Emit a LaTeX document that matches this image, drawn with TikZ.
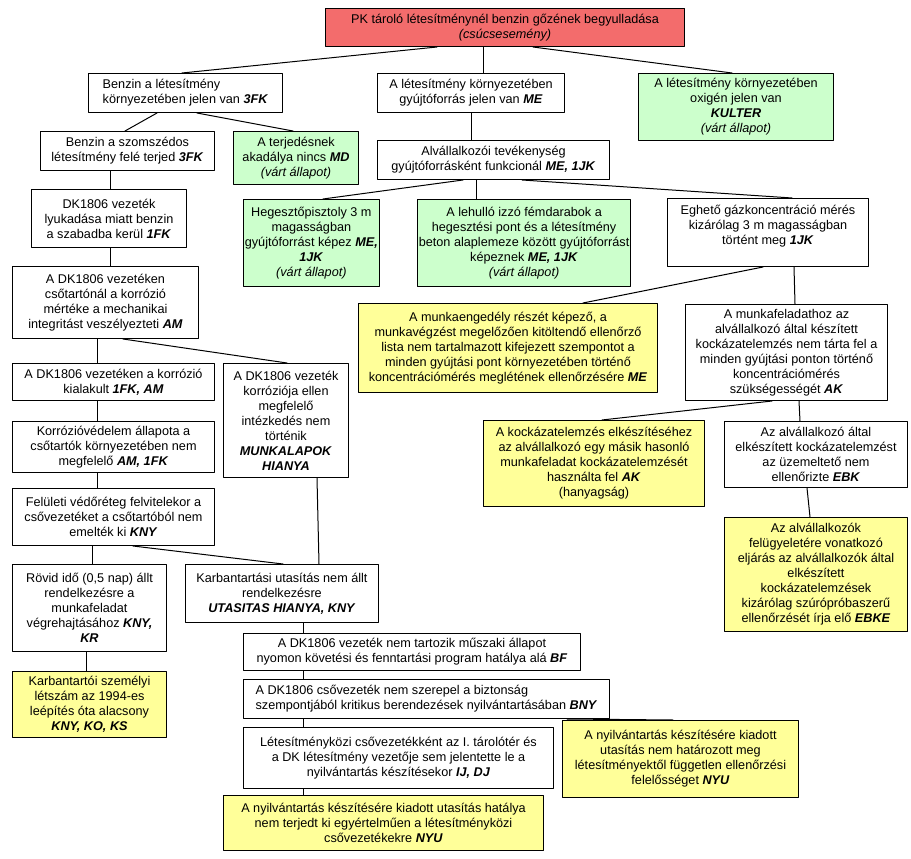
\documentclass[tikz,border=0pt]{standalone}
\usepackage{fontspec}
\setmainfont{Liberation Sans}
\newcommand{\kod}[1]{\textbf{\textit{#1}}}
\definecolor{pirosszin}{RGB}{243,108,108}
\definecolor{zoldszin}{RGB}{204,255,204}
\definecolor{sargaszin}{RGB}{255,255,153}
\tikzset{meret/.style 2 args={minimum width=#1*0.75pt,minimum height=#2*0.75pt}}
\begin{document}
\begin{tikzpicture}[x=0.75pt,y=-0.75pt,font=\fontsize{9.5}{11.25}\selectfont,line join=round,line cap=round,
	doboz/.style={draw,line width=0.75pt,anchor=north west,align=center,inner xsep=1pt,inner ysep=1pt},
	piros/.style={doboz,fill=pirosszin},
	zold/.style={doboz,fill=zoldszin},
	sarga/.style={doboz,fill=sargaszin}]
	\useasboundingbox (0,0) rectangle (911,859);
	% első sorok
	\path
	(325,8) node[piros,meret={359}{38}] (csucs) {PK tároló létesítménynél benzin gőzének begyulladása\\\textit{(csúcsesemény)}}
	(88,73) node[doboz,align=left,meret={194}{39}] (benzin) {Benzin a létesítmény\\környezetében jelen van \kod{3FK}}
	(377,73) node[doboz,meret={187}{39}] (gyujto) {A létesítmény környezetében\\gyújtóforrás jelen van \kod{ME}}
	(638,73) node[zold,meret={195}{67}] (oxigen) {A létesítmény környezetében\\oxigén jelen van\\\kod{KULTER}\\\textit{(várt állapot)}}
	(40,131) node[doboz,meret={174}{39}] (szomszed) {Benzin a szomszédos\\létesítmény felé terjed \kod{3FK}}
	(233,131) node[zold,meret={125}{53}] (terjed) {A terjedésnek\\akadálya nincs \kod{MD}\\\textit{(várt állapot)}}
	(377,140) node[doboz,meret={232}{39}] (alvall) {Alvállalkozói tevékenység\\gyújtóforrásként funkcionál \kod{ME, 1JK}}
	(31,189) node[doboz,meret={155}{58}] (lyuk) {DK1806 vezeték\\lyukadása miatt benzin\\a szabadba kerül \kod{1FK}}
	(243,199) node[zold,meret={115}{87}] (hegeszt) {Hegesztőpisztoly 3 m\\magasságban\\gyújtóforrást képez \kod{ME,}\\\kod{1JK}\\\textit{(várt állapot)}}
	(417,199) node[zold,meret={156}{87}] (lehull) {A lehulló izzó fémdarabok a\\hegesztési pont és a létesítmény\\beton alaplemeze között gyújtóforrást\\képeznek \kod{ME, 1JK}\\\textit{(várt állapot)}}
	(667,198) node[doboz,meret={201}{68}] (eghet) {Eghető gázkoncentráció mérés\\kizárólag 3 m magasságban\\történt meg \kod{1JK}\\\mbox{}};
	% bal oldali ág
	\path
	(12,266) node[doboz,meret={186}{72}] (csotarto) {A DK1806 vezetéken\\csőtartónál a korrózió\\mértéke a mechanikai\\integritást veszélyezteti \kod{AM}}
	(12,363) node[doboz,meret={202}{37}] (korrozio) {A DK1806 vezetéken a korrózió\\kialakult \kod{1FK, AM}}
	(223,363) node[doboz,meret={125}{114}] (munkalap) {A DK1806 vezeték\\korróziója ellen\\megfelelő\\intézkedés nem\\történik\\\kod{MUNKALAPOK}\\\kod{HIANYA}}
	(12,421) node[doboz,meret={202}{51}] (vedelem) {Korrózióvédelem állapota a\\csőtartók környezetében nem\\megfelelő \kod{AM, 1FK}}
	(12,488) node[doboz,meret={202}{57}] (feluleti) {Felületi védőréteg felvitelekor a\\csővezetéket a csőtartóból nem\\emelték ki \kod{KNY}}
	(12,564) node[doboz,meret={154}{87}] (rovid) {Rövid idő (0,5 nap) állt\\rendelkezésre a\\munkafeladat\\végrehajtásához \kod{KNY,}\\\kod{KR}}
	(185,564) node[doboz,meret={193}{58}] (utasitas) {Karbantartási utasítás nem állt\\rendelkezésre\\\kod{UTASITAS HIANYA, KNY}}
	(12,671) node[sarga,meret={154}{66}] (letszam) {Karbantartói személyi\\létszám az 1994-es\\leépítés óta alacsony\\\kod{KNY, KO, KS}}
	(243,633) node[doboz,meret={337}{37}] (muszaki) {A DK1806 vezeték nem tartozik műszaki állapot\\nyomon követési és fenntartási program hatálya alá \kod{BF}}
	(243,679) node[doboz,align=left,meret={366}{39}] (bny) {A DK1806 csővezeték nem szerepel a biztonság\\szempontjából kritikus berendezések nyilvántartásában \kod{BNY}}
	(243,727) node[doboz,meret={310}{61}] (letkozi) {Létesítményközi csővezetékként az I. tárolótér és\\a DK létesítmény vezetője sem jelentette le a\\nyilvántartás készítésekor \kod{IJ, DJ}}
	(562,720) node[sarga,meret={236}{77}] (nyujobb) {A nyilvántartás készítésére kiadott\\utasítás nem határozott meg\\létesítményektől független ellenőrzési\\felelősséget \kod{NYU}}
	(223,795) node[sarga,meret={320}{55}] (nyubal) {A nyilvántartás készítésére kiadott utasítás hatálya\\nem terjedt ki egyértelműen a létesítményközi\\csővezetékekre \kod{NYU}};
	% jobb oldali ág
	\path
	(358,303) node[sarga,meret={299}{89}] (munkaeng) {A munkaengedély részét képező, a\\munkavégzést megelőzően kitöltendő ellenőrző\\lista nem tartalmazott kifejezett szempontot a\\minden gyújtási pont környezetében történő\\koncentrációmérés meglétének ellenőrzésére \kod{ME}}
	(685,304) node[doboz,meret={202}{96}] (munkafel) {A munkafeladathoz az\\alvállalkozó által készített\\kockázatelemzés nem tárta fel a\\minden gyújtási ponton történő\\koncentrációmérés\\szükségességét \kod{AK}}
	(483,420) node[sarga,meret={221}{86}] (kockelem) {A kockázatelemzés elkészítéséhez\\az alvállalkozó egy másik hasonló\\munkafeladat kockázatelemzését\\használta fel \kod{AK}\\(hanyagság)}
	(724,421) node[doboz,meret={183}{66}] (ebk) {Az alvállalkozó által\\elkészített kockázatelemzést\\az üzemeltető nem\\ellenőrizte \kod{EBK}}
	(724,517) node[sarga,meret={183}{114}] (ebke) {Az alvállalkozók\\felügyeletére vonatkozó\\eljárás az alvállalkozók által\\elkészített\\kockázatelemzések\\kizárólag szúrópróbaszerű\\ellenőrzését írja elő \kod{EBKE}};
	% összekötések
	\draw[line width=0.75pt] (csucs.south -| 437,0)--(benzin.north -| 182,0);
	\draw[line width=0.75pt] (csucs.south -| 483,0)--(gyujto.north -| 483,0);
	\draw[line width=0.75pt] (csucs.south -| 533,0)--(oxigen.north -| 732,0);
	\draw[line width=0.75pt] (benzin.south -| 157,0)--(szomszed.north -| 125,0);
	\draw[line width=0.75pt] (benzin.south -| 197,0)--(terjed.north -| 293,0);
	\draw[line width=0.75pt] (gyujto.south -| 471,0)--(alvall.north -| 471,0);
	\draw[line width=0.75pt] (szomszed.south -| 110,0)--(lyuk.north -| 110,0);
	\draw[line width=0.75pt] (lyuk.south -| 110,0)--(csotarto.north -| 110,0);
	\draw[line width=0.75pt] (alvall.south -| 463,0)--(hegeszt.north -| 323,0);
	\draw[line width=0.75pt] (alvall.south -| 476,0)--(lehull.north -| 476,0);
	\draw[line width=0.75pt] (alvall.south -| 522,0)--(eghet.north -| 792,0);
	\draw[line width=0.75pt] (csotarto.south -| 97,0)--(korrozio.north -| 97,0);
	\draw[line width=0.75pt] (csotarto.south -| 123,0)--(munkalap.north -| 287,0);
	\draw[line width=0.75pt] (korrozio.south -| 97,0)--(vedelem.north -| 97,0);
	\draw[line width=0.75pt] (vedelem.south -| 97,0)--(feluleti.north -| 97,0);
	\draw[line width=0.75pt] (feluleti.south -| 92,0)--(rovid.north -| 92,0);
	\draw[line width=0.75pt] (feluleti.south -| 133,0)--(utasitas.north -| 283,0);
	\draw[line width=0.75pt] (munkalap.south -| 317,0)--(utasitas.north -| 319,0);
	\draw[line width=0.75pt] (rovid.south -| 86,0)--(letszam.north -| 86,0);
	\draw[line width=0.75pt] (utasitas.south -| 303,0)--(muszaki.north -| 303,0);
	\draw[line width=0.75pt] (muszaki.south -| 303,0)--(bny.north -| 303,0);
	\draw[line width=0.75pt] (bny.south -| 303,0)--(letkozi.north -| 303,0);
	\draw[line width=0.75pt] (bny.south -| 567,0)--(nyujobb.north -| 673,0);
	\draw[line width=0.75pt] (letkozi.south -| 303,0)--(nyubal.north -| 303,0);
	\draw[line width=0.75pt] (eghet.south -| 763,0)--(munkaeng.north -| 583,0);
	\draw[line width=0.75pt] (eghet.south -| 794,0)--(munkafel.north -| 795,0);
	\draw[line width=0.75pt] (munkafel.south -| 772,0)--(kockelem.north -| 602,0);
	\draw[line width=0.75pt] (munkafel.south -| 799,0)--(ebk.north -| 800,0);
	\draw[line width=0.75pt] (ebk.south -| 807,0)--(ebke.north -| 810,0);
\end{tikzpicture}
\end{document}
